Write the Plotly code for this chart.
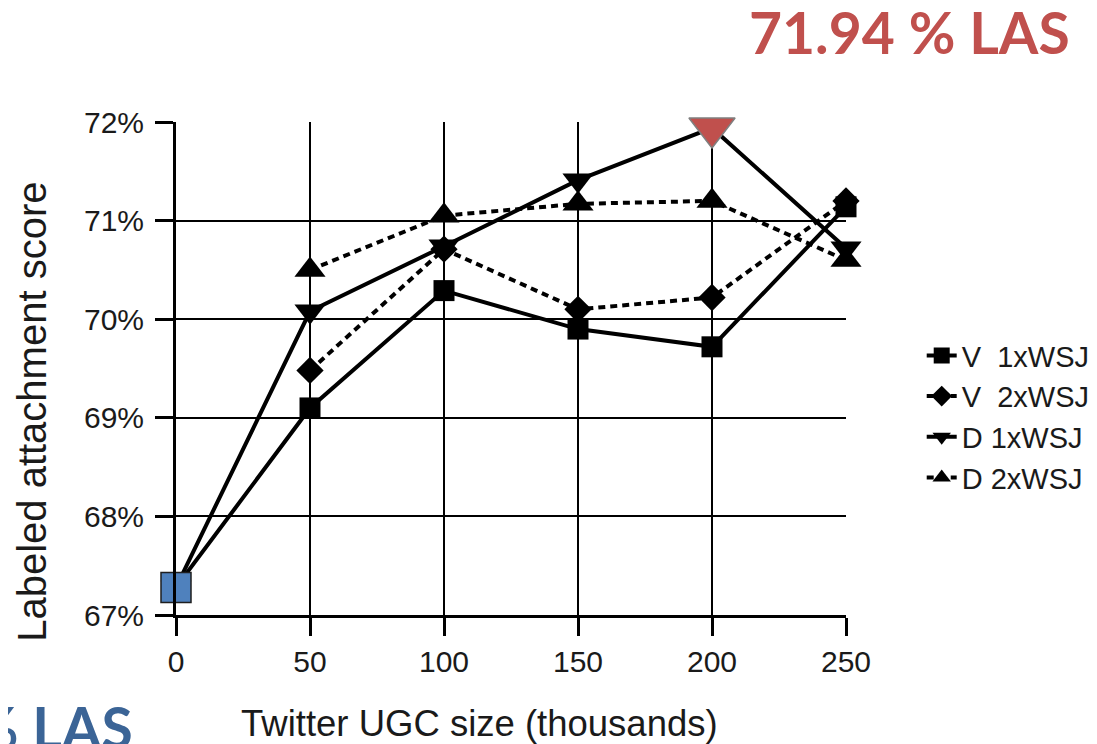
import plotly.graph_objects as go

x_vals = [0, 50, 100, 150, 200, 250]
v_1x = [67.28, 69.10, 70.29, 69.90, 69.72, 71.14]
v_2x = [None, 69.48, 70.71, 70.10, 70.22, 71.20]
d_1x = [67.28, 70.08, 70.74, 71.41, 71.94, 70.72]
d_2x = [None, 70.50, 71.05, 71.17, 71.20, 70.60]

baseline_x = [0]
baseline_y = [67.28]
best_x = [200]
best_y = [71.94]

y_ticks = [67, 68, 69, 70, 71, 72]
y_ticktext = ["67%", "68%", "69%", "70%", "71%", "72%"]

fig = go.Figure()

series = [
    ("V  1xWSJ", v_1x, "solid", "square", 21),
    ("V  2xWSJ", v_2x, "7px,5px", "diamond", 21),
    ("D 1xWSJ", d_1x, "solid", "triangle-down", 27),
    ("D 2xWSJ", d_2x, "7px,5px", "triangle-up", 27),
]
for name, ys, dash, sym, sz in series:
    fig.add_trace(go.Scatter(
        x=x_vals, y=ys, name=name, mode="lines+markers",
        line=dict(color="black", width=4, dash=dash),
        marker=dict(symbol=sym, size=sz, color="black"),
        connectgaps=False, cliponaxis=False,
    ))

fig.add_trace(go.Scatter(
    x=baseline_x, y=baseline_y, mode="markers", showlegend=False,
    cliponaxis=False,
    marker=dict(symbol="square", size=30, color="#4F81BD",
                line=dict(color="#1F1F1F", width=1.5)),
))
fig.add_trace(go.Scatter(
    x=best_x, y=best_y, mode="markers", showlegend=False,
    cliponaxis=False,
    marker=dict(symbol="triangle-down", size=40, color="#C0504D",
                line=dict(color="#7F7F7F", width=1.5)),
))

fig.add_annotation(
    text="<b>71.94 % LAS</b>", xref="paper", yref="paper",
    x=1.337, y=1.182, xanchor="right", yanchor="middle", showarrow=False,
    font=dict(family="Lato", size=57, color="#C0504D"),
)
fig.add_annotation(
    text="<b>67.28 % LAS</b>", xref="paper", yref="paper",
    x=-0.061, y=-0.154, xanchor="right", yanchor="top", showarrow=False,
    font=dict(family="Lato", size=57, color="#3B6496"),
)
# axis titles (placed like the reference, off-centre)
fig.add_annotation(
    text="Labeled attachment score", xref="paper", yref="paper",
    x=-0.215, y=0.412, xanchor="center", yanchor="middle", showarrow=False,
    textangle=-90, font=dict(family="Liberation Sans", size=40, color="#1a1a1a"),
)
fig.add_annotation(
    text="Twitter UGC size (thousands)", xref="paper", yref="paper",
    x=0.4537, y=-0.221, xanchor="center", yanchor="middle", showarrow=False,
    font=dict(family="Liberation Sans", size=36.5, color="#1a1a1a"),
)

fig.update_layout(
    width=1097, height=744,
    margin=dict(l=168, r=259, t=114, b=137, autoexpand=False),
    plot_bgcolor="white", paper_bgcolor="white",
    font=dict(family="Liberation Sans", color="#1a1a1a"),
    legend=dict(
        x=1.113, y=0.578, xanchor="left", yanchor="top",
        font=dict(size=29, family="Liberation Sans", color="#1a1a1a"),
        itemwidth=30, tracegroupgap=0, bgcolor="rgba(0,0,0,0)",
    ),
)
fig.update_xaxes(
    range=[0, 250], tickvals=x_vals, ticks="outside", ticklen=18, tickwidth=3,
    tickcolor="black", showline=True, linecolor="black", linewidth=3,
    showgrid=True, gridcolor="black", gridwidth=2, zeroline=False,
    tickfont=dict(size=30),
)
fig.update_yaxes(
    range=[67, 72], tickvals=y_ticks, ticktext=y_ticktext, ticks="outside",
    ticklen=18, tickwidth=3, tickcolor="black", showline=True,
    linecolor="black", linewidth=3, showgrid=True, gridcolor="black",
    gridwidth=2, zeroline=False, tickfont=dict(size=30), ticklabelstandoff=5,
)

fig.write_html("out.html")
